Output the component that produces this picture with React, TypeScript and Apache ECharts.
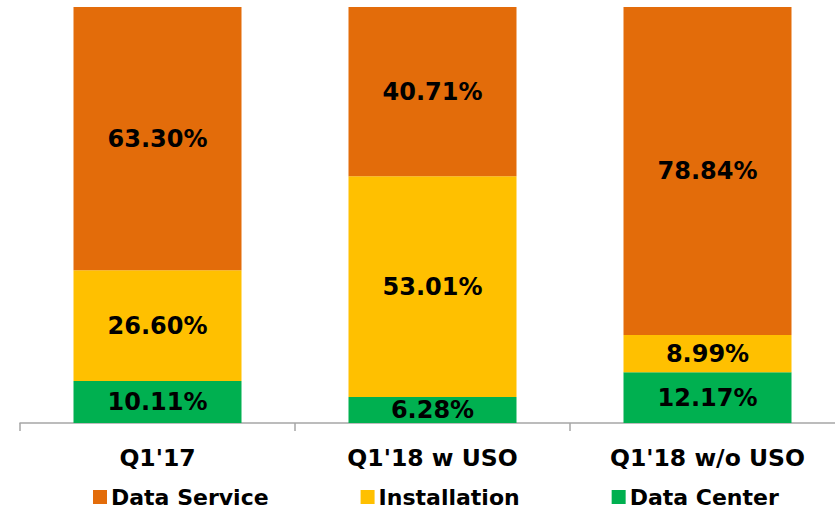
import React, { useEffect, useRef } from "react";
import * as echarts from "echarts";

const categories = ["Q1'17", "Q1'18 w USO", "Q1'18 w/o USO"];
const dataCenter = [10.11, 6.28, 12.17];
const installation = [26.6, 53.01, 8.99];
const dataService = [63.3, 40.71, 78.84];

const FONT = "DejaVu Sans";

export default function App() {
  const ref = useRef<HTMLDivElement>(null);
  useEffect(() => {
    if (!ref.current) return;
    const chart = echarts.init(ref.current, null, { renderer: "svg" });
    const label = {
      show: true,
      position: "inside" as const,
      color: "#000",
      fontFamily: FONT,
      fontWeight: "bold" as const,
      fontSize: 24,
      formatter: (p: any) => p.value.toFixed(2) + "%",
    };
    const mk = (name: string, data: number[], color: string) => ({
      name,
      type: "bar" as const,
      stack: "total",
      data,
      barWidth: 168,
      itemStyle: { color },
      label,
    });
    chart.setOption({
      animation: false,
      grid: { left: 20, top: 7, width: 825, height: 416 },
      legend: {
        data: ["Data Service", "Installation", "Data Center"],
        left: 88,
        top: 481,
        icon: "rect",
        itemWidth: 14,
        itemHeight: 14,
        itemGap: 92,
        textStyle: {
          color: "#000",
          fontFamily: FONT,
          fontWeight: "bold",
          fontSize: 22,
          lineHeight: 22,
          padding: [0, 0, 0, -1],
        },
      },
      xAxis: {
        type: "category",
        data: categories,
        axisLine: { lineStyle: { color: "#a6a6a6", width: 1.5 } },
        axisTick: {
          show: true,
          alignWithLabel: false,
          interval: 0,
          length: 8,
          lineStyle: { color: "#a6a6a6", width: 1.5 },
        },
        axisLabel: {
          color: "#000",
          fontFamily: FONT,
          fontWeight: "bold",
          fontSize: 23.5,
          margin: 23,
        },
      },
      yAxis: { type: "value", min: 0, max: 100, show: false, splitLine: { show: false } },
      series: [
        mk("Data Center", dataCenter, "#00B050"),
        mk("Installation", installation, "#FFC000"),
        mk("Data Service", dataService, "#E36C0A"),
      ],
    });
    return () => chart.dispose();
  }, []);
  return (
    <div
      style={{
        position: "absolute",
        left: 0,
        top: 0,
        width: 835,
        height: 509,
        overflow: "hidden",
      }}
    >
      <div ref={ref} style={{ width: 850, height: 509 }} />
    </div>
  );
}
